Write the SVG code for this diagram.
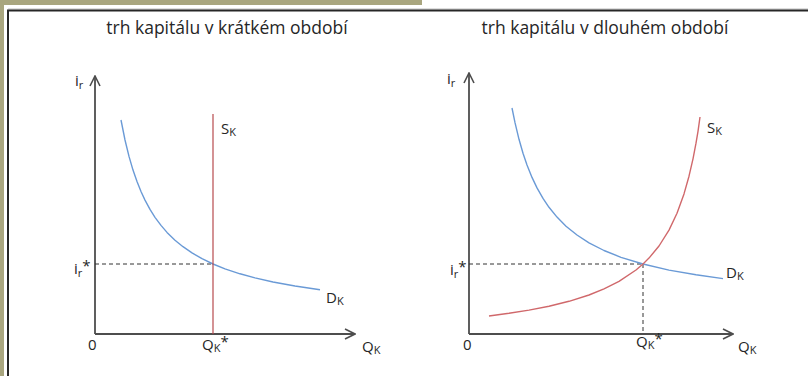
<svg xmlns="http://www.w3.org/2000/svg" width="808" height="376" viewBox="0 0 808 376">
<defs>
<style>
.t{font-family:"Open Sans","Liberation Sans",sans-serif;fill:#262626}
.title{font-size:17.5px;text-anchor:middle}
.lab{font-size:15px}
.sub{font-size:11px}
.axis{stroke:#4d4d4d;stroke-width:1.8;fill:none}
.dash{stroke:#333;stroke-width:1;stroke-dasharray:4 3;fill:none}
.dem{stroke:#6a9ad6;stroke-width:1.4;fill:none;stroke-linejoin:round}
.sup{stroke:#d0686b;stroke-width:1.4;fill:none;stroke-linejoin:round}
</style>
<marker id="arr" viewBox="0 0 12 12" refX="11" refY="6" markerWidth="12" markerHeight="12" markerUnits="userSpaceOnUse" orient="auto">
<path d="M1,1 L11,6 L1,11" fill="none" stroke="#4d4d4d" stroke-width="1.6"/>
</marker>
</defs>
<rect width="808" height="376" fill="#fff"/>
<rect x="0" y="0" width="422" height="5" fill="#a9a67f"/>
<rect x="0" y="0" width="4" height="376" fill="#a9a67f"/>
<line x1="8" y1="9" x2="808" y2="9" stroke="#bdbdbd" stroke-width="1"/>
<line x1="7" y1="10.5" x2="808" y2="10.5" stroke="#262626" stroke-width="2"/>
<line x1="8" y1="10" x2="8" y2="376" stroke="#262626" stroke-width="2"/>

<g id="left-chart">
<text class="t title" x="227" y="34">trh kapitálu v krátkém období</text>
<g id="left-axes">
<line class="axis" x1="95" y1="334" x2="95" y2="76" marker-end="url(#arr)"/>
<line class="axis" x1="95" y1="334" x2="355" y2="334" marker-end="url(#arr)"/>
<text class="t lab" x="75" y="86">i<tspan class="sub" dy="3">r</tspan></text>
<text class="t lab" x="88" y="350">0</text>
<text class="t lab" x="362" y="352">Q<tspan class="sub" dy="2">K</tspan></text>
</g>
<g id="left-guides">
<line class="dash" x1="95" y1="264" x2="213" y2="264"/>
<text class="t lab" x="74" y="274">i<tspan class="sub" dy="3">r</tspan><tspan dy="-6">*</tspan></text>
<text class="t lab" x="202" y="350">Q<tspan class="sub" dy="2">K</tspan><tspan dy="-5">*</tspan></text>
</g>
<g id="left-demand">
<polyline class="dem" points="121,120 125,140 129,156.4 133,170.1 137,181.6 141,191.5 145,200.1 150,209.4 155,217.3 161,225.4 167,232.4 175,240.2 183,246.7 192,252.9 202,258.7 213,264 225,268.8 240,273.8 255,277.9 273,282 295,286 320,289.7"/>
<text class="t lab" x="326" y="303">D<tspan class="sub" dy="2">K</tspan></text>
</g>
<g id="left-supply">
<line x1="213" y1="114" x2="213" y2="334" stroke="#b84a4e" stroke-width="1.2"/>
<text class="t lab" x="221" y="134">S<tspan class="sub" dy="2">K</tspan></text>
</g>
</g>

<g id="right-chart">
<text class="t title" x="605" y="34">trh kapitálu v dlouhém období</text>
<g id="right-axes">
<line class="axis" x1="469" y1="334" x2="469" y2="73" marker-end="url(#arr)"/>
<line class="axis" x1="469" y1="334" x2="733" y2="334" marker-end="url(#arr)"/>
<text class="t lab" x="447" y="84">i<tspan class="sub" dy="3">r</tspan></text>
<text class="t lab" x="463" y="350">0</text>
<text class="t lab" x="738" y="352">Q<tspan class="sub" dy="2">K</tspan></text>
</g>
<g id="right-guides">
<line class="dash" x1="469" y1="264" x2="643" y2="264"/>
<line class="dash" x1="643" y1="264" x2="643" y2="334"/>
<text class="t lab" x="450" y="275">i<tspan class="sub" dy="3">r</tspan><tspan dy="-6">*</tspan></text>
<text class="t lab" x="636" y="347">Q<tspan class="sub" dy="2">K</tspan><tspan dy="-5">*</tspan></text>
</g>
<g id="right-demand">
<polyline class="dem" points="512,108 515,122.7 519,139.3 523,153.2 527,165 532,177.4 537,187.9 543,198.4 549,207.3 557,217.1 566,226.2 577,235 589,242.8 604,250.5 621,257.3 643,264 669,270.1 696,274.8 723,278.6"/>
<text class="t lab" x="726" y="278">D<tspan class="sub" dy="2">K</tspan></text>
</g>
<g id="right-supply">
<polyline class="sup" points="489,316 509,313.3 529,310.1 549,306.2 569,301.3 589,295 604,288.8 619,281.4 636,270 643,264 649,258.1 659,246 669,230.1 677,213.3 684,193.9 689,176.2 693,158.8 696,143.2 698,131.3 700,117"/>
<text class="t lab" x="707" y="133">S<tspan class="sub" dy="2">K</tspan></text>
</g>
</g>
</svg>
